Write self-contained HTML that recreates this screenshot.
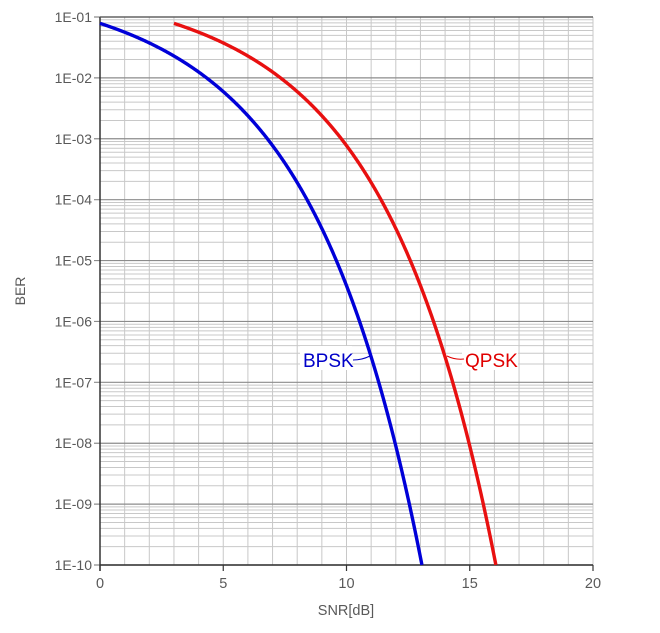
<!DOCTYPE html>
<html><head><meta charset="utf-8"><style>
html,body{margin:0;padding:0;background:#fff;}
svg{display:block;font-family:"Liberation Sans",sans-serif;}
</style></head><body>
<svg id="s" width="660" height="633" viewBox="0 0 660 633" xmlns="http://www.w3.org/2000/svg"></svg>
<script>
var s=document.getElementById('s');
var X0=100,X1=593,Y0=17,Y1=565,DX=(X1-X0)/20,DY=(Y1-Y0)/9;
var h='';
function px(d){return X0+d*DX;}
function py(l){return Y0+(-1-l)*DY;}
for(var k=-10;k<-1;k++){for(var m=2;m<=9;m++){var y=py(k+Math.log10(m));h+='<line x1="'+X0+'" x2="'+X1+'" y1="'+y.toFixed(2)+'" y2="'+y.toFixed(2)+'" stroke="#c8c8c8" stroke-width="1"/>';}}
for(var d=1;d<=20;d++){var x=px(d);h+='<line x1="'+x.toFixed(2)+'" x2="'+x.toFixed(2)+'" y1="'+Y0+'" y2="'+Y1+'" stroke="#c8c8c8" stroke-width="1"/>';}
for(var k=-1;k>=-10;k--){var y=py(k);h+='<line x1="'+(X0-6)+'" x2="'+X1+'" y1="'+y+'" y2="'+y+'" stroke="#8c8c8c" stroke-width="1.2"/>';
 var lab='1E-'+(('0'+(-k)).slice(-2));
 h+='<text x="'+(X0-8)+'" y="'+(y+5)+'" text-anchor="end" font-size="14" fill="#595959">'+lab+'</text>';}
h+='<line x1="'+X0+'" x2="'+X0+'" y1="'+Y0+'" y2="'+(Y1+6)+'" stroke="#333" stroke-width="1.5"/>';
h+='<line x1="'+X0+'" x2="'+X1+'" y1="'+Y1+'" y2="'+Y1+'" stroke="#333" stroke-width="1.5"/>';
h+='<line x1="'+X0+'" x2="'+X1+'" y1="'+Y0+'" y2="'+Y0+'" stroke="#555" stroke-width="1.2"/>';
for(var d=0;d<=20;d+=5){var x=px(d);h+='<line x1="'+x+'" x2="'+x+'" y1="'+Y1+'" y2="'+(Y1+6)+'" stroke="#333" stroke-width="1.2"/>';
 h+='<text x="'+x+'" y="'+(Y1+23)+'" text-anchor="middle" font-size="14.5" fill="#595959">'+d+'</text>';}
h+='<text x="346" y="615" text-anchor="middle" font-size="14.5" fill="#595959">SNR[dB]</text>';
h+='<text transform="translate(25,291) rotate(-90)" text-anchor="middle" font-size="14" fill="#595959">BER</text>';
function erfc(x){var z=Math.abs(x),t=1/(1+0.5*z);var r=t*Math.exp(-z*z-1.26551223+t*(1.00002368+t*(0.37409196+t*(0.09678418+t*(-0.18628806+t*(0.27886807+t*(-1.13520398+t*(1.48851587+t*(-0.82215223+t*0.17087277)))))))));return x>=0?r:2-r;}
function curve(off,col){var p=[];for(var d=0;d<=14;d+=0.02){var b=0.5*erfc(Math.sqrt(Math.pow(10,d/10)));var y=py(Math.log10(b));if(y>Y1)break;p.push(px(d+off).toFixed(2)+','+y.toFixed(2));}
 return '<polyline points="'+p.join(' ')+'" fill="none" stroke="'+col+'" stroke-width="3.4" stroke-linejoin="round"/>';}
h+=curve(0,'#0000d8');h+=curve(3,'#e81010');
h+='<rect x="300" y="346" width="52" height="24" fill="#fff"/>';
h+='<text x="303" y="367" font-size="19" fill="#0000c8">BPSK</text>';
h+='<path d="M353,360 Q362,360 370,356" fill="none" stroke="#0000c0" stroke-width="1"/>';
h+='<rect x="462" y="346" width="56" height="24" fill="#fff"/>';
h+='<text x="465" y="367" font-size="19" fill="#e00000">QPSK</text>';
h+='<path d="M447,356 Q455,360 464,359" fill="none" stroke="#e00000" stroke-width="1"/>';
s.innerHTML=h;
</script>
</body></html>
